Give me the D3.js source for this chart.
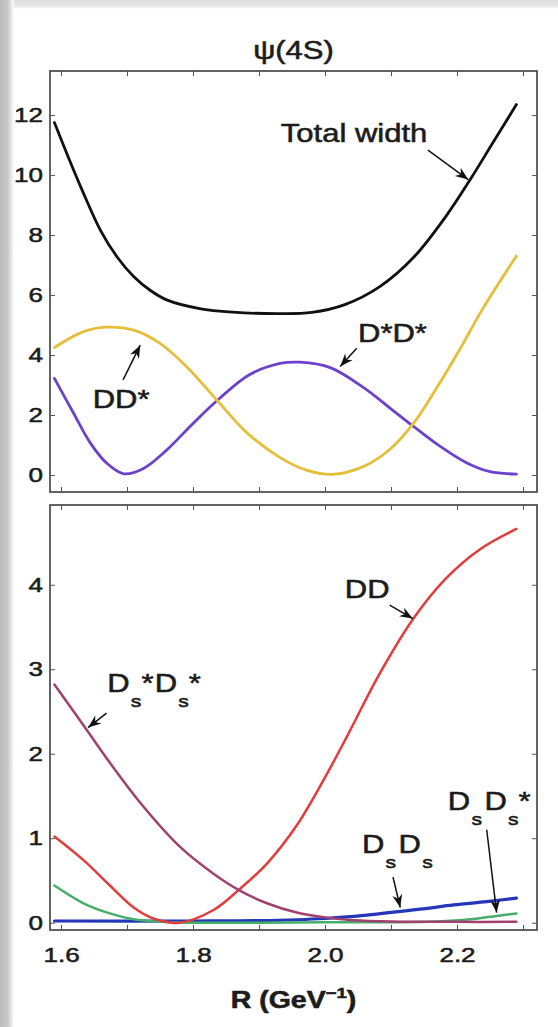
<!DOCTYPE html>
<html>
<head>
<meta charset="utf-8">
<script src="https://cdn.jsdelivr.net/npm/d3@7"></script>
<style>
  html, body { margin: 0; padding: 0; background: #fff; }
  svg { display: block; }
  text { font-family: "Liberation Sans", Arial, Helvetica, sans-serif; fill: #1c1c1c; stroke: #1c1c1c; stroke-width: 0.55px; }
</style>
</head>
<body>
<svg id="chart" width="558" height="1027"></svg>
<script>
// ψ(4S) partial decay widths as a function of the radius parameter R

// ---- axis ticks ----
const xTicks = [1.6, 1.7, 1.8, 1.9, 2.0, 2.1, 2.2, 2.3];
const xTickLabels = ["1.6", "", "1.8", "", "2.0", "", "2.2", ""];
const upperYTicks = [0, 2, 4, 6, 8, 10, 12];
const lowerYTicks = [0, 1, 2, 3, 4];

// ---- upper panel series: [R, width] ----
const totalWidth = [[1.59,11.75],[1.61,10.65],[1.63,9.6],[1.66,8.15],[1.685,7.27],[1.71,6.62],[1.735,6.16],[1.76,5.84],[1.81,5.55],[1.86,5.43],[1.93,5.38],[1.98,5.42],[2.03,5.68],[2.083,6.28],[2.134,7.25],[2.184,8.65],[2.22,9.85],[2.255,11.1],[2.29,12.35]];
const ddStar = [[1.59,4.25],[1.634,4.78],[1.669,4.93],[1.71,4.83],[1.75,4.39],[1.79,3.62],[1.836,2.5],[1.881,1.42],[1.932,0.58],[1.972,0.16],[2.01,0.02],[2.058,0.28],[2.098,0.85],[2.134,1.72],[2.169,2.9],[2.205,4.22],[2.24,5.58],[2.29,7.3]];
const dStarDStar = [[1.59,3.22],[1.619,2.06],[1.644,1.08],[1.669,0.4],[1.695,0.04],[1.725,0.22],[1.76,0.83],[1.8,1.72],[1.84,2.55],[1.886,3.35],[1.932,3.72],[1.962,3.76],[2.008,3.58],[2.058,2.92],[2.098,2.24],[2.134,1.62],[2.174,0.96],[2.215,0.4],[2.25,0.11],[2.29,0.03]];

// ---- lower panel series: [R, width] ----
const dd = [[1.59,1.02],[1.634,0.74],[1.674,0.44],[1.71,0.18],[1.74,0.05],[1.78,0.0],[1.831,0.15],[1.871,0.4],[1.912,0.7],[1.957,1.15],[2.0,1.72],[2.033,2.2],[2.083,2.95],[2.134,3.6],[2.184,4.08],[2.235,4.42],[2.29,4.66]];
const dsStarDsStar = [[1.59,2.82],[1.639,2.28],[1.679,1.84],[1.72,1.42],[1.78,0.9],[1.831,0.58],[1.871,0.38],[1.912,0.23],[1.957,0.12],[2.003,0.06],[2.043,0.03],[2.1,0.015],[2.2,0.01],[2.29,0.01]];
const dsDsStar = [[1.59,0.44],[1.634,0.23],[1.674,0.11],[1.71,0.04],[1.75,0.01],[1.8,0.0],[1.9,0.0],[2.0,0.005],[2.1,0.006],[2.169,0.015],[2.22,0.04],[2.26,0.08],[2.29,0.11]];
const dsDs = [[1.59,0.02],[1.8,0.02],[1.9,0.025],[2.0,0.05],[2.063,0.09],[2.144,0.16],[2.195,0.21],[2.245,0.25],[2.29,0.29]];

const W = 558, H = 1027;
const svg = d3.select("#chart");
const STRETCH = 1.24;   // horizontal widening of all lettering

// ---- page backdrop ----
const defs = svg.append("defs");
const gl = defs.append("linearGradient").attr("id", "edgeL").attr("x1", 0).attr("x2", 1).attr("y1", 0).attr("y2", 0);
gl.append("stop").attr("offset", "0%").attr("stop-color", "#bcbcbc");
gl.append("stop").attr("offset", "55%").attr("stop-color", "#c8c8c8");
gl.append("stop").attr("offset", "100%").attr("stop-color", "#ffffff");
const gt = defs.append("linearGradient").attr("id", "edgeT").attr("x1", 0).attr("x2", 0).attr("y1", 0).attr("y2", 1);
gt.append("stop").attr("offset", "0%").attr("stop-color", "#dedede");
gt.append("stop").attr("offset", "70%").attr("stop-color", "#e8e8e8");
gt.append("stop").attr("offset", "100%").attr("stop-color", "#ffffff");

svg.append("rect").attr("width", W).attr("height", H).attr("fill", "#fff");
svg.append("rect").attr("x", 0).attr("y", 0).attr("width", W).attr("height", 9).attr("fill", "url(#edgeT)");
svg.append("rect").attr("x", 0).attr("y", 0).attr("width", 14).attr("height", H).attr("fill", "url(#edgeL)");

// arrowhead marker
defs.append("marker")
  .attr("id", "head")
  .attr("viewBox", "-14 -6 15 12")
  .attr("refX", 0).attr("refY", 0)
  .attr("markerWidth", 15).attr("markerHeight", 12)
  .attr("markerUnits", "userSpaceOnUse")
  .attr("orient", "auto")
  .append("path")
  .attr("d", "M0,0 L-13,-5 L-9,0 L-13,5 Z")
  .attr("fill", "#111");

// ---- geometry ----
const plotL = 50, plotR = 537;
const x = d3.scaleLinear().domain([1.5833, 2.3212]).range([plotL, plotR]);

const upper = { top: 71, bottom: 492 };
const lower = { top: 505, bottom: 930 };
const yU = d3.scaleLinear().domain([-0.567, 13.47]).range([upper.bottom, upper.top]);
const yL = d3.scaleLinear().domain([-0.0864, 4.944]).range([lower.bottom, lower.top]);

function widen(sel, s) {
  sel.each(function () {
    const t = d3.select(this);
    const tx = +t.attr("x") || 0, ty = +t.attr("y") || 0;
    t.attr("x", 0).attr("y", 0).attr("transform", `translate(${tx},${ty}) scale(${s},1)`);
  });
}

function drawFrame(panel, y, yTicks, withXLabels) {
  const g = svg.append("g");
  // plot box
  g.append("rect")
    .attr("x", plotL).attr("y", panel.top)
    .attr("width", plotR - plotL).attr("height", panel.bottom - panel.top)
    .attr("fill", "none").attr("stroke", "#484848").attr("stroke-width", 1.7);

  const tick = 5;
  const left = g.append("g").attr("transform", `translate(${plotL},0)`)
    .call(d3.axisLeft(y).tickValues(yTicks).tickFormat(d3.format("d")).tickSizeInner(-tick).tickSizeOuter(0).tickPadding(7));
  const right = g.append("g").attr("transform", `translate(${plotR},0)`)
    .call(d3.axisRight(y).tickValues(yTicks).tickFormat("").tickSizeInner(-tick).tickSizeOuter(0));
  const top = g.append("g").attr("transform", `translate(0,${panel.top})`)
    .call(d3.axisTop(x).tickValues(xTicks).tickFormat("").tickSizeInner(-tick).tickSizeOuter(0));
  const bottom = g.append("g").attr("transform", `translate(0,${panel.bottom})`)
    .call(d3.axisBottom(x).tickValues(xTicks)
      .tickFormat((d, i) => withXLabels ? xTickLabels[i] : "")
      .tickSizeInner(-tick).tickSizeOuter(0).tickPadding(17));

  [left, right, top, bottom].forEach(a => {
    a.select(".domain").remove();
    a.selectAll(".tick line").attr("stroke", "#555").attr("stroke-width", 1);
    a.selectAll(".tick text").attr("font-size", 21).attr("fill", "#222")
      .attr("stroke", "#222").attr("stroke-width", 0.5)
      .attr("font-family", "'Liberation Sans', Arial, sans-serif");
    widen(a.selectAll(".tick text"), STRETCH);
  });
  return g;
}

function drawSeries(data, y, color, width) {
  const line = d3.line().x(d => x(d[0])).y(d => y(d[1])).curve(d3.curveCatmullRom.alpha(0.5));
  svg.append("path").datum(data)
    .attr("d", line)
    .attr("fill", "none")
    .attr("stroke", color)
    .attr("stroke-width", width)
    .attr("stroke-linecap", "round")
    .attr("stroke-linejoin", "round");
}

function arrow(y, from, to) {
  svg.append("line")
    .attr("x1", x(from[0])).attr("y1", y(from[1]))
    .attr("x2", x(to[0])).attr("y2", y(to[1]))
    .attr("stroke", "#111").attr("stroke-width", 1.5)
    .attr("marker-end", "url(#head)");
}

function label(y, at, size, weight) {
  return svg.append("text")
    .attr("transform", `translate(${x(at[0])},${y(at[1])}) scale(${STRETCH},1)`)
    .attr("font-size", size)
    .attr("font-weight", weight || "normal");
}

// label of the form D_s[*] D_s[*]
function dsLabel(y, at, stars) {
  const t = label(y, at, 25);
  const drop = 15;
  t.append("tspan").text("D");
  t.append("tspan").attr("font-size", 17).attr("dy", drop).attr("dx", 1).text("s");
  if (stars[0]) {
    t.append("tspan").attr("dy", -drop).text("*");
    t.append("tspan").attr("dx", 1).text("D");
  } else {
    t.append("tspan").attr("dy", -drop).attr("dx", 2).text("D");
  }
  t.append("tspan").attr("font-size", 17).attr("dy", drop).attr("dx", 1).text("s");
  if (stars[1]) t.append("tspan").attr("dy", -drop).text("*");
  return t;
}

// ---- upper panel ----
drawFrame(upper, yU, upperYTicks, false);
drawSeries(dStarDStar, yU, "#6c42cc", 2.8);
drawSeries(ddStar, yU, "#e6bf3a", 2.8);
drawSeries(totalWidth, yU, "#111111", 2.8);

label(yU, [1.933, 11.1], 25).text("Total width");
arrow(yU, [2.156, 10.83], [2.217, 9.85]);
label(yU, [1.648, 2.23], 25).text("DD*");
arrow(yU, [1.694, 3.17], [1.72, 4.33]);
label(yU, [2.05, 4.43], 25).text("D*D*");
arrow(yU, [2.048, 4.23], [2.023, 3.62]);

// ---- lower panel ----
drawFrame(lower, yL, lowerYTicks, true);
drawSeries(dsDs, yL, "#2337b8", 3.2);
drawSeries(dsDsStar, yL, "#46ad6b", 2.5);
drawSeries(dd, yL, "#e23c3c", 2.5);
drawSeries(dsStarDsStar, yL, "#a2416f", 2.5);

label(yL, [2.03, 3.84], 25).text("DD");
arrow(yL, [2.098, 3.76], [2.133, 3.6]);
dsLabel(yL, [1.67, 2.73], [true, true]);
arrow(yL, [1.669, 2.48], [1.641, 2.31]);
dsLabel(yL, [2.056, 0.83], [false, false]);
arrow(yL, [2.103, 0.54], [2.114, 0.18]);
dsLabel(yL, [2.186, 1.33], [false, true]);
arrow(yL, [2.245, 1.1], [2.26, 0.12]);

// ---- titles ----
const midX = (plotL + plotR) / 2;
svg.append("text")
  .attr("transform", `translate(${midX},59) scale(${STRETCH},1)`)
  .attr("text-anchor", "middle").attr("font-size", 25)
  .text("ψ(4S)");

const xl = svg.append("text")
  .attr("transform", `translate(${midX},1008) scale(${STRETCH},1)`)
  .attr("text-anchor", "middle").attr("font-size", 23).attr("font-weight", "bold")
  .attr("stroke-width", 0.3);
xl.append("tspan").text("R (GeV");
xl.append("tspan").attr("font-size", 15).attr("dy", -10).text("−1");
xl.append("tspan").attr("dy", 10).text(")");
</script>
</body>
</html>
